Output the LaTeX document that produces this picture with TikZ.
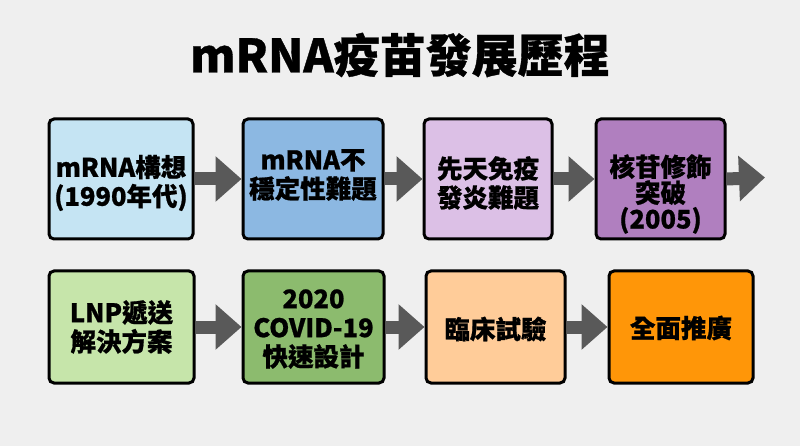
\documentclass[tikz,border=0pt]{standalone}
\usepackage{fontspec}
\setmainfont{Noto Sans CJK TC}[BoldFeatures={FakeBold=0.8}]
\usetikzlibrary{arrows.meta,calc}
\definecolor{bgc}{HTML}{EFEFEF}
\definecolor{arrc}{HTML}{595959}
\definecolor{c1}{HTML}{C5E4F3}
\definecolor{c2}{HTML}{8CB8E2}
\definecolor{c3}{HTML}{DCC0E6}
\definecolor{c4}{HTML}{B07FBF}
\definecolor{c5}{HTML}{C6E5AA}
\definecolor{c6}{HTML}{8CBB6E}
\definecolor{c7}{HTML}{FFCC99}
\definecolor{c8}{HTML}{FF9608}
\begin{document}
\begin{tikzpicture}[x=1pt,y=-1pt,
  stepbox/.style={draw=black,line width=3pt,rounded corners=5pt,inner sep=0pt,anchor=north west},
  txt/.style={font=\bfseries\fontsize{25.5}{29}\selectfont,align=center,inner sep=0pt,text=black},
  flowarrow/.style={draw=arrc,line width=13pt,-{Triangle[length=26pt,width=44pt]}}]
\fill[bgc] (0,0) rectangle (800,446);
\useasboundingbox (0,0) rectangle (800,446);
\node[font=\bfseries\fontsize{46}{50}\selectfont,inner sep=0pt] (title) at (400,55) {mRNA疫苗發展歷程};
% row 1 boxes (outer extents)
\node[stepbox,fill=c1,minimum width=144pt,minimum height=120pt] (b1) at (47.5,117.5) {};
\node[stepbox,fill=c2,minimum width=140pt,minimum height=120pt] (b2) at (241.5,117.5) {};
\node[stepbox,fill=c3,minimum width=128pt,minimum height=120pt] (b3) at (422.5,117.5) {};
\node[stepbox,fill=c4,minimum width=129pt,minimum height=120pt] (b4) at (594.5,117.5) {};
% row 2 boxes
\node[stepbox,fill=c5,minimum width=145pt,minimum height=112pt] (b5) at (47.5,269.5) {};
\node[stepbox,fill=c6,minimum width=141pt,minimum height=112pt] (b6) at (241.5,269.5) {};
\node[stepbox,fill=c7,minimum width=139pt,minimum height=112pt] (b7) at (424.5,269.5) {};
\node[stepbox,fill=c8,minimum width=144pt,minimum height=112pt] (b8) at (607.5,269.5) {};
\coordinate (e4) at (765,177.5);
% arrows
\draw[flowarrow] (b1.east) -- (b2.west);
\draw[flowarrow] (b2.east) -- (b3.west);
\draw[flowarrow] (b3.east) -- (b4.west);
\draw[flowarrow] (b4.east) -- (e4);
\draw[flowarrow] (b5.east) -- (b6.west);
\draw[flowarrow] (b6.east) -- (b7.west);
\draw[flowarrow] (b7.east) -- (b8.west);
% texts
\node[txt] (t1) at ($(b1.center)+(0,4)$) {mRNA構想\\(1990年代)};
\node[txt] (t2) at ($(b2.center)+(0,-4)$) {mRNA不\\穩定性難題};
\node[txt] (t3) at ($(b3.center)+(0,4)$) {先天免疫\\發炎難題};
\node[txt,font=\bfseries\fontsize{25.5}{26}\selectfont] (t4) at ($(b4.center)+(0,15)$) {核苷修飾\\突破\\(2005)};
\node[txt] (t5) at ($(b5.center)+(0,0)$) {LNP遞送\\解決方案};
\node[txt] (t6) at ($(b6.center)+(0,2)$) {2020\\COVID-19\\快速設計};
\node[txt] (t7) at ($(b7.center)+(0,2)$) {臨床試驗};
\node[txt] (t8) at ($(b8.center)+(0,1)$) {全面推廣};
\end{tikzpicture}
\end{document}
